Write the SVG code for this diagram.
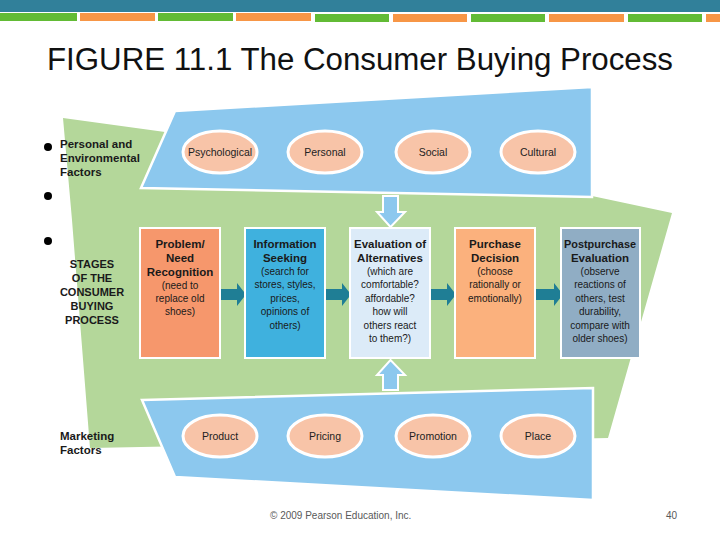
<svg xmlns="http://www.w3.org/2000/svg" width="720" height="540" viewBox="0 0 720 540">
<style>
.t{font-family:"Liberation Sans",Arial,sans-serif;fill:#1a1a1a}
.b{font-weight:bold;font-size:11.5px}
.r{font-size:10px}
.lbl{font-weight:bold;font-size:11.5px}
.el{fill:#F8C4A8;stroke:#fff;stroke-width:3}
.band{fill:#8CC8EE;stroke:#fff;stroke-width:2.5}
.box{stroke:#fff;stroke-width:2}
.ar{fill:#1F7E95}
.ov{font-family:"Liberation Sans",Arial,sans-serif;font-size:10.5px;fill:#222;text-anchor:middle}
</style>
<rect width="720" height="540" fill="#fff"/>
<!-- header bar -->
<rect x="0" y="0" width="720" height="12" fill="#31809A"/>
<g>
<rect x="0" y="13" width="77" height="8" fill="#62BB35"/>
<rect x="80" y="13" width="75" height="8" fill="#F79646"/>
<rect x="158" y="13" width="75" height="8" fill="#62BB35"/>
<rect x="236" y="13" width="75" height="8" fill="#F79646"/>
<rect x="315" y="14" width="74" height="8" fill="#62BB35"/>
<rect x="393" y="14" width="74" height="8" fill="#F79646"/>
<rect x="471" y="14" width="74" height="8" fill="#62BB35"/>
<rect x="549" y="14" width="75" height="8" fill="#F79646"/>
<rect x="628" y="14" width="74" height="8" fill="#62BB35"/>
<rect x="706" y="14" width="14" height="8" fill="#F79646"/>
</g>
<text x="47" y="70" font-family="Liberation Sans,Arial,sans-serif" font-size="31" fill="#111" textLength="626" lengthAdjust="spacingAndGlyphs">FIGURE 11.1 The Consumer Buying Process</text>
<!-- bullets -->
<circle cx="48" cy="147" r="4" fill="#000"/>
<circle cx="48" cy="196" r="4" fill="#000"/>
<circle cx="48" cy="241" r="4" fill="#000"/>
<!-- green backdrop -->
<polygon points="63,118 165,132 592,196 672,213 608,438 90,448 72,220" fill="#B4D79A"/>
<!-- top band -->
<g id="personal-factors">
<polygon class="band" points="175,111 592,87 592,197 141,188"/>
<ellipse class="el" cx="220" cy="152" rx="37" ry="21"/>
<ellipse class="el" cx="325" cy="152" rx="37" ry="21"/>
<ellipse class="el" cx="433" cy="152" rx="37" ry="21"/>
<ellipse class="el" cx="538" cy="152" rx="37" ry="21"/>
<text class="ov" x="220" y="156">Psychological</text>
<text class="ov" x="325" y="156">Personal</text>
<text class="ov" x="433" y="156">Social</text>
<text class="ov" x="538" y="156">Cultural</text>
</g>
<!-- bottom band -->
<g id="marketing-factors">
<polygon class="band" points="142,400 593,388 593,500 175,477"/>
<ellipse class="el" cx="220" cy="436" rx="37" ry="21"/>
<ellipse class="el" cx="325" cy="436" rx="37" ry="21"/>
<ellipse class="el" cx="433" cy="436" rx="37" ry="21"/>
<ellipse class="el" cx="538" cy="436" rx="37" ry="21"/>
<text class="ov" x="220" y="440">Product</text>
<text class="ov" x="325" y="440">Pricing</text>
<text class="ov" x="433" y="440">Promotion</text>
<text class="ov" x="538" y="440">Place</text>
</g>
<!-- connectors -->
<g id="connectors">
<polygon points="383,196 398,196 398,212 405,212 390.5,227 377,212 383,212" fill="#8CC8EE" stroke="#fff" stroke-width="2"/>
<polygon points="383,390 398,390 398,375 405,375 390.5,360 377,375 383,375" fill="#8CC8EE" stroke="#fff" stroke-width="2"/>
<polygon class="ar" points="221,289 237,289 237,283 246,294.5 237,306 237,300 221,300"/>
<polygon class="ar" points="326,289 342,289 342,283 351,294.5 342,306 342,300 326,300"/>
<polygon class="ar" points="431,289 447,289 447,283 456,294.5 447,306 447,300 431,300"/>
<polygon class="ar" points="536,289 554,289 554,283 563,294.5 554,306 554,300 536,300"/>
</g>
<!-- side labels -->
<g id="label-personal">
<text class="t lbl" x="60" y="148">Personal and</text>
<text class="t lbl" x="60" y="162">Environmental</text>
<text class="t lbl" x="60" y="176">Factors</text>
</g>
<g id="label-stages" text-anchor="middle">
<text class="t" x="92" y="268" font-weight="bold" font-size="11">STAGES</text>
<text class="t" x="92" y="282" font-weight="bold" font-size="11">OF THE</text>
<text class="t" x="92" y="296" font-weight="bold" font-size="11">CONSUMER</text>
<text class="t" x="92" y="310" font-weight="bold" font-size="11">BUYING</text>
<text class="t" x="92" y="324" font-weight="bold" font-size="11">PROCESS</text>
</g>
<g id="label-marketing">
<text class="t lbl" x="60" y="440">Marketing</text>
<text class="t lbl" x="60" y="454">Factors</text>
</g>
<!-- stage boxes -->
<g id="problem" text-anchor="middle">
<rect class="box" x="140" y="228" width="80" height="130" fill="#F6976C"/>
<text class="t b" x="180" y="248">Problem/</text>
<text class="t b" x="180" y="262">Need</text>
<text class="t b" x="180" y="276">Recognition</text>
<text class="t r" x="180" y="289">(need to</text>
<text class="t r" x="180" y="302">replace old</text>
<text class="t r" x="180" y="315">shoes)</text>
</g>
<g id="information" text-anchor="middle">
<rect class="box" x="245" y="228" width="80" height="130" fill="#3FB1DE"/>
<text class="t b" x="285" y="248">Information</text>
<text class="t b" x="285" y="262">Seeking</text>
<text class="t r" x="285" y="275">(search for</text>
<text class="t r" x="285" y="288">stores, styles,</text>
<text class="t r" x="285" y="302">prices,</text>
<text class="t r" x="285" y="315">opinions of</text>
<text class="t r" x="285" y="329">others)</text>
</g>
<g id="evaluation" text-anchor="middle">
<rect class="box" x="350" y="228" width="80" height="130" fill="#DCEBF8"/>
<text class="t b" x="390" y="248" textLength="72" lengthAdjust="spacingAndGlyphs">Evaluation of</text>
<text class="t b" x="390" y="262">Alternatives</text>
<text class="t r" x="390" y="275">(which are</text>
<text class="t r" x="390" y="288">comfortable?</text>
<text class="t r" x="390" y="302">affordable?</text>
<text class="t r" x="390" y="315">how will</text>
<text class="t r" x="390" y="329">others react</text>
<text class="t r" x="390" y="342">to them?)</text>
</g>
<g id="purchase" text-anchor="middle">
<rect class="box" x="455" y="228" width="80" height="130" fill="#FBB17D"/>
<text class="t b" x="495" y="248">Purchase</text>
<text class="t b" x="495" y="262">Decision</text>
<text class="t r" x="495" y="275">(choose</text>
<text class="t r" x="495" y="288">rationally or</text>
<text class="t r" x="495" y="302">emotionally)</text>
</g>
<g id="postpurchase" text-anchor="middle">
<rect class="box" x="561" y="228" width="79" height="130" fill="#90ADC4"/>
<text class="t b" x="600" y="248" textLength="72" lengthAdjust="spacingAndGlyphs">Postpurchase</text>
<text class="t b" x="600" y="262">Evaluation</text>
<text class="t r" x="600" y="275">(observe</text>
<text class="t r" x="600" y="288">reactions of</text>
<text class="t r" x="600" y="302">others, test</text>
<text class="t r" x="600" y="315">durability,</text>
<text class="t r" x="600" y="329">compare with</text>
<text class="t r" x="600" y="342">older shoes)</text>
</g>
<!-- footer -->
<text x="270" y="519" font-family="Liberation Sans,Arial,sans-serif" font-size="10" fill="#595959">© 2009 Pearson Education, Inc.</text>
<text x="677" y="519" font-family="Liberation Sans,Arial,sans-serif" font-size="10" fill="#595959" text-anchor="end">40</text>
</svg>
